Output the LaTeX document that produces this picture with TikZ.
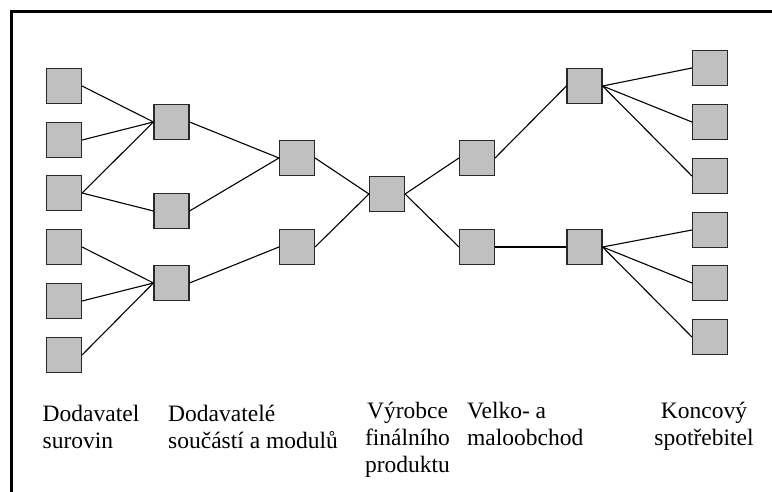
\documentclass[tikz,border=0pt]{standalone}
\usepackage{fontspec}
\setmainfont{Liberation Serif}
\definecolor{boxfill}{RGB}{192,192,192}
\definecolor{boxedge}{RGB}{40,40,40}
\begin{document}
\begin{tikzpicture}[x=1pt,y=-1pt,
  unit/.style={rectangle, draw=boxedge, fill=boxfill, line width=1.1pt,
               minimum size=35pt, inner sep=0pt},
  link/.style={line width=1.1pt, black},
  frameline/.style={line width=3.3pt, black, line join=miter},
  caption/.style={inner sep=0pt, font=\fontsize{23.5}{27}\selectfont}]
\useasboundingbox (0,0) rectangle (772,492);

% frame along the top and left edge
\coordinate (fr) at (772,11.5);
\coordinate (fc) at (11.5,11.5);
\coordinate (fb) at (11.5,492);
\draw[frameline] (fr) -- (fc) -- (fb);

% raw material suppliers
\node[unit] (s1) at (64,86)  {};
\node[unit] (s2) at (64,140) {};
\node[unit] (s3) at (64,193) {};
\node[unit] (s4) at (64,247) {};
\node[unit] (s5) at (64,301) {};
\node[unit] (s6) at (64,355) {};
% component suppliers
\node[unit] (c1) at (171.5,122) {};
\node[unit] (c2) at (171.5,211) {};
\node[unit] (c3) at (171.5,283) {};
% module suppliers
\node[unit] (m1) at (297,158) {};
\node[unit] (m2) at (297,247) {};
% final producer
\node[unit] (p)  at (387,194) {};
% wholesale
\node[unit] (w1) at (477,158) {};
\node[unit] (w2) at (477,247) {};
% retail
\node[unit] (r1) at (584.5,86)  {};
\node[unit] (r2) at (584.5,247) {};
% end consumers
\node[unit] (k1) at (710,68)  {};
\node[unit] (k2) at (710,122) {};
\node[unit] (k3) at (710,176) {};
\node[unit] (k4) at (710,230) {};
\node[unit] (k5) at (710,283) {};
\node[unit] (k6) at (710,337) {};

% supply links
\draw[link] (s1.east) -- (c1.west);
\draw[link] (s2.east) -- (c1.west);
\draw[link] (s3.east) -- (c1.west);
\draw[link] (s3.east) -- (c2.west);
\draw[link] (s4.east) -- (c3.west);
\draw[link] (s5.east) -- (c3.west);
\draw[link] (s6.east) -- (c3.west);
\draw[link] (c1.east) -- (m1.west);
\draw[link] (c2.east) -- (m1.west);
\draw[link] (c3.east) -- (m2.west);
\draw[link] (m1.east) -- (p.west);
\draw[link] (m2.east) -- (p.west);
\draw[link] (p.east) -- (w1.west);
\draw[link] (p.east) -- (w2.west);
\draw[link] (w1.east) -- (r1.west);
\draw[link] (w2.east) -- (r2.west);
\draw[link] (r1.east) -- (k1.west);
\draw[link] (r1.east) -- (k2.west);
\draw[link] (r1.east) -- (k3.west);
\draw[link] (r2.east) -- (k4.west);
\draw[link] (r2.east) -- (k5.west);
\draw[link] (r2.east) -- (k6.west);

% stage captions
\node[caption, anchor=north west, align=left] (t1) at (42.5,402.1)
  {\strut Dodavatel\\surovin};
\node[caption, anchor=north west, align=left] (t2) at (168,402.1)
  {\strut Dodavatelé\\součástí a modulů};
\node[caption, anchor=north, align=center] (t3) at (407.5,399.1)
  {\strut Výrobce\\finálního\\produktu};
\node[caption, anchor=north west, align=left] (t4) at (467,399.1)
  {\strut Velko- a\\maloobchod};
\node[caption, anchor=north, align=center] (t5) at (704,399.1)
  {\strut Koncový\\spotřebitel};
\end{tikzpicture}
\end{document}
